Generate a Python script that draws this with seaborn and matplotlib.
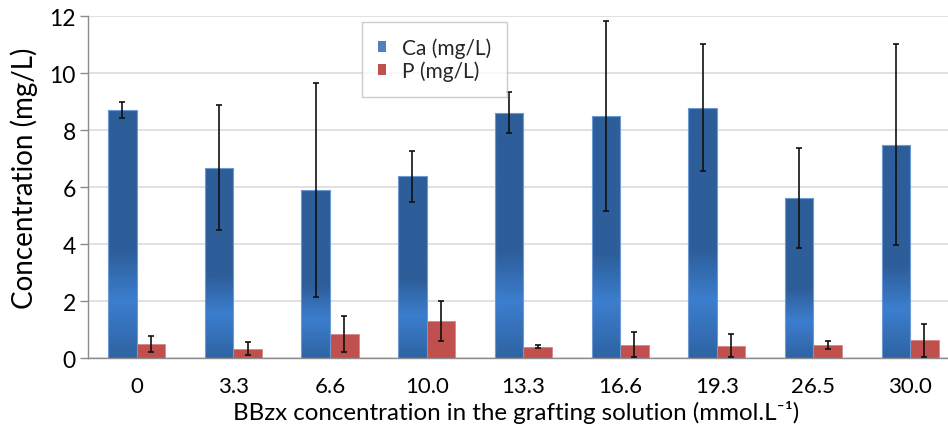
import numpy as np
import pandas as pd
import matplotlib
matplotlib.use("Agg")
import matplotlib.pyplot as plt
import seaborn as sns
from matplotlib.colors import LinearSegmentedColormap
from matplotlib.patches import Patch

categories = ["0", "3.3", "6.6", "10.0", "13.3", "16.6", "19.3", "26.5", "30.0"]
ca_values = [8.71, 6.69, 5.91, 6.39, 8.62, 8.49, 8.80, 5.63, 7.50]
ca_errors = [0.27, 2.20, 3.75, 0.90, 0.72, 3.33, 2.24, 1.76, 3.54]
p_values = [0.50, 0.33, 0.85, 1.31, 0.41, 0.47, 0.44, 0.45, 0.64]
p_errors = [0.28, 0.23, 0.63, 0.69, 0.06, 0.44, 0.41, 0.14, 0.58]
series = ["Ca (mg/L)", "P (mg/L)"]

sns.set_theme(style="white")
plt.rcParams["font.family"] = ["Lato", "DejaVu Sans"]

df = pd.DataFrame({
    "cat": categories * 2,
    "series": [series[0]] * len(categories) + [series[1]] * len(categories),
    "value": ca_values + p_values,
})

W, H = 948, 427
fig = plt.figure(figsize=(W / 100, H / 100), dpi=100)
left, right = 88.3, 958.5
bottom, top = H - 359.3, H - 17.3
ax = fig.add_axes([left / W, bottom / H, (right - left) / W, (top - bottom) / H])

sns.barplot(data=df, x="cat", y="value", hue="series", order=categories,
            hue_order=series, palette=["#4f81bd", "#c0504d"], width=0.59,
            errorbar=None, ax=ax, legend=False, linewidth=0.8,
            edgecolor="none", saturation=1)

n = len(categories)
ca_patches = ax.patches[:n]
p_patches = ax.patches[n:2 * n]

cmap = LinearSegmentedColormap.from_list("g", [
    (0.0, "#2f63a3"), (0.23, "#3c7ece"), (0.43, "#2d5e9a"), (1.0, "#2d5e99")])
grad = np.linspace(0, 1, 256).reshape(-1, 1)
for p in ca_patches:
    x0, w, h = p.get_x(), p.get_width(), p.get_height()
    im = ax.imshow(grad, cmap=cmap, origin="lower", aspect="auto",
                   extent=[x0, x0 + w, 0, h], zorder=p.get_zorder() + 0.1)
    im.set_clip_path(p)
    p.set_edgecolor("#6d9ad4")
    p.set_linewidth(0.8)
    p.set_zorder(p.get_zorder() + 0.2)
    p.set_facecolor("none")
for p in p_patches:
    p.set_edgecolor("#d68986")
    p.set_linewidth(0.6)

ca_x = [p.get_x() + p.get_width() / 2 for p in ca_patches]
p_x = [p.get_x() + p.get_width() / 2 for p in p_patches]
ax.errorbar(ca_x, ca_values, yerr=ca_errors, fmt="none", ecolor="#111111",
            elinewidth=1.2, capsize=2.3, capthick=1.2, zorder=5)
ax.errorbar(p_x, p_values, yerr=p_errors, fmt="none", ecolor="#111111",
            elinewidth=1.2, capsize=2.3, capthick=1.2, zorder=5)

ax.set_xlim(-0.5, n - 0.5)
ax.set_ylim(0, 12)
ax.set_yticks(range(0, 13, 2))
ax.yaxis.grid(True, color="#d9d9d9", linewidth=1.1)
ax.set_axisbelow(True)
for s in ["top", "right"]:
    ax.spines[s].set_visible(False)
for s in ["left", "bottom"]:
    ax.spines[s].set_color("#8c8c8c")
    ax.spines[s].set_linewidth(1.0)

ax.set_xticks(range(n))
ax.set_xticklabels(categories)
ax.set_xticks(np.arange(-0.5, n, 1.0), minor=True)
ax.tick_params(axis="x", which="major", length=0, pad=12.5, labelsize=16,
               labelcolor="black")
ax.tick_params(axis="x", which="minor", length=6, width=1.0, color="#8c8c8c",
               direction="out")
ax.tick_params(axis="y", which="major", length=6, width=1.0, color="#8c8c8c",
               direction="out", labelsize=16.5, pad=3, labelcolor="black", left=True)

ax.set_xlabel("BBzx concentration in the grafting solution (mmol.L\u207b\u00b9)",
              fontsize=17.4, color="black")
ax.xaxis.set_label_coords((516 - left) / (right - left), (359.3 - 420.5) / 342)
ax.xaxis.label.set_va("baseline")
ax.set_ylabel("Concentration (mg/L)", fontsize=20, color="black")
ax.yaxis.set_label_coords((24 - left) / (right - left), (359.3 - 178) / 342)
ax.yaxis.label.set_va("center")
ax.yaxis.label.set_ha("center")

handles = [Patch(facecolor="#4f81bd", edgecolor="none"),
           Patch(facecolor="#c0504d", edgecolor="none")]
leg = fig.legend(handles, series, loc="upper left",
                 bbox_to_anchor=(362 / W, 1 - 23 / H), frameon=True,
                 fancybox=False, fontsize=15, handlelength=0.42, handleheight=0.42,
                 handletextpad=0.75, borderpad=0.75, labelspacing=0.1,
                 borderaxespad=0)
leg.get_frame().set_edgecolor("#bfbfbf")
leg.get_frame().set_linewidth(1.0)
leg.get_frame().set_boxstyle("square", pad=0)

fig.savefig("out.png", dpi=100)
